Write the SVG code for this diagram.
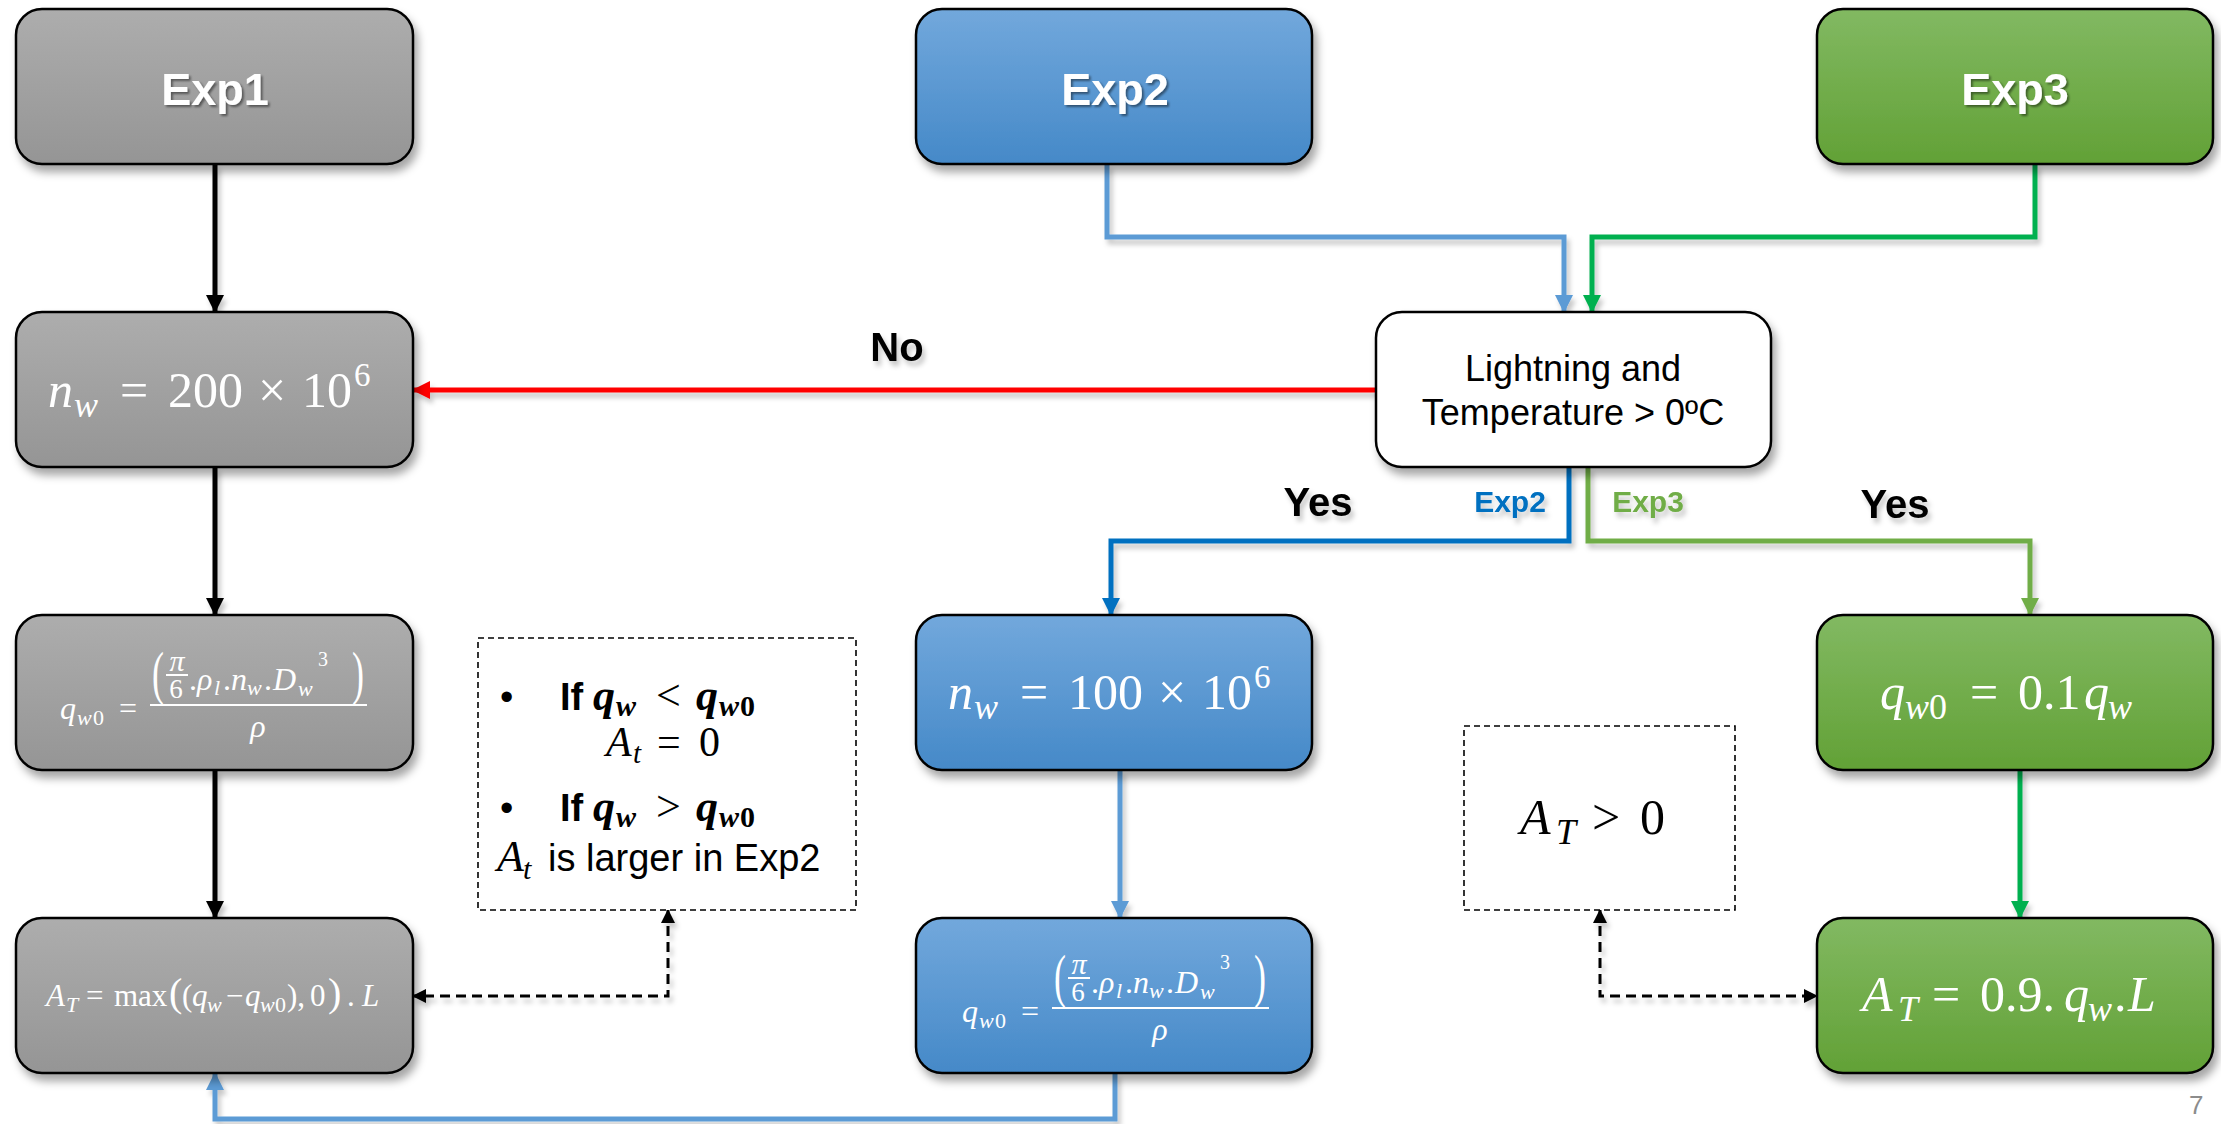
<svg xmlns="http://www.w3.org/2000/svg" width="2221" height="1124" viewBox="0 0 2221 1124">
<style>
.box{stroke:#000;stroke-width:2.5}
.lbl{font-family:"Liberation Sans",Arial,sans-serif;font-weight:bold;fill:#fff;font-size:45px;text-anchor:middle}
.m{font-family:"Liberation Serif","DejaVu Serif",serif;fill:#fff}
.mk{font-family:"Liberation Serif","DejaVu Serif",serif;fill:#000}
.i{font-style:italic}
.dec{font-family:"Liberation Sans",Arial,sans-serif;font-size:36px;fill:#000;text-anchor:middle}
.yes{font-family:"Liberation Sans",Arial,sans-serif;font-weight:bold;font-size:40px;fill:#000;text-anchor:middle}
.tag{font-family:"Liberation Sans",Arial,sans-serif;font-weight:bold;font-size:30px;text-anchor:middle}
.sans{font-family:"Liberation Sans",Arial,sans-serif}
.c{fill:none;stroke-width:5}
.dash{fill:none;stroke:#000;stroke-width:3;stroke-dasharray:10 6}
.dbox{fill:#fff;stroke:#000;stroke-width:1.6;stroke-dasharray:6 4}
</style>
<defs>
<linearGradient id="gGray" x1="0" y1="0" x2="0" y2="1"><stop offset="0" stop-color="#adadad"/><stop offset="1" stop-color="#959595"/></linearGradient>
<linearGradient id="gBlue" x1="0" y1="0" x2="0" y2="1"><stop offset="0" stop-color="#72a8dc"/><stop offset="1" stop-color="#4589c8"/></linearGradient>
<linearGradient id="gGreen" x1="0" y1="0" x2="0" y2="1"><stop offset="0" stop-color="#82b962"/><stop offset="1" stop-color="#62a136"/></linearGradient>
<filter id="sh" x="-10%" y="-10%" width="125%" height="135%"><feDropShadow dx="4" dy="7" stdDeviation="4" flood-color="#000" flood-opacity="0.35"/></filter>
<filter id="shl" x="-10%" y="-10%" width="125%" height="125%"><feDropShadow dx="3" dy="5" stdDeviation="2.5" flood-color="#000" flood-opacity="0.22"/></filter>
<filter id="ts" x="-10%" y="-10%" width="125%" height="130%"><feDropShadow dx="2" dy="2" stdDeviation="1" flood-color="#000" flood-opacity="0.45"/></filter>
<marker id="aK" markerUnits="userSpaceOnUse" markerWidth="18" markerHeight="18" viewBox="0 0 18 18" refX="17" refY="9" orient="auto"><path d="M0,0 L18,9 L0,18 z" fill="#000"/></marker>
<marker id="aR" markerUnits="userSpaceOnUse" markerWidth="18" markerHeight="18" viewBox="0 0 18 18" refX="17" refY="9" orient="auto"><path d="M0,0 L18,9 L0,18 z" fill="#ff0000"/></marker>
<marker id="aLB" markerUnits="userSpaceOnUse" markerWidth="18" markerHeight="18" viewBox="0 0 18 18" refX="17" refY="9" orient="auto"><path d="M0,0 L18,9 L0,18 z" fill="#5b9bd5"/></marker>
<marker id="aDB" markerUnits="userSpaceOnUse" markerWidth="18" markerHeight="18" viewBox="0 0 18 18" refX="17" refY="9" orient="auto"><path d="M0,0 L18,9 L0,18 z" fill="#0070c0"/></marker>
<marker id="aG" markerUnits="userSpaceOnUse" markerWidth="18" markerHeight="18" viewBox="0 0 18 18" refX="17" refY="9" orient="auto"><path d="M0,0 L18,9 L0,18 z" fill="#00b050"/></marker>
<marker id="aLG" markerUnits="userSpaceOnUse" markerWidth="18" markerHeight="18" viewBox="0 0 18 18" refX="17" refY="9" orient="auto"><path d="M0,0 L18,9 L0,18 z" fill="#70ad47"/></marker>
<marker id="aD" markerUnits="userSpaceOnUse" markerWidth="14" markerHeight="14" viewBox="0 0 14 14" refX="13" refY="7" orient="auto-start-reverse"><path d="M0,0 L14,7 L0,14 z" fill="#000"/></marker>
</defs>
<rect width="2221" height="1124" fill="#fff"/>

<g id="connectors" filter="url(#shl)">
<path class="c" stroke="#000" d="M215,164 V312" marker-end="url(#aK)"/>
<path class="c" stroke="#000" d="M215,467 V615" marker-end="url(#aK)"/>
<path class="c" stroke="#000" d="M215,770 V918" marker-end="url(#aK)"/>
<path class="c" stroke="#5b9bd5" d="M1107,164 V237 H1564 V312" marker-end="url(#aLB)"/>
<path class="c" stroke="#00b050" d="M2035,164 V237 H1592 V312" marker-end="url(#aG)"/>
<path class="c" stroke="#ff0000" d="M1376,390 H413" marker-end="url(#aR)"/>
<path class="c" stroke="#0070c0" d="M1569,467 V541 H1111 V615" marker-end="url(#aDB)"/>
<path class="c" stroke="#70ad47" d="M1588,467 V541 H2030 V615" marker-end="url(#aLG)"/>
<path class="c" stroke="#5b9bd5" d="M1120,770 V918" marker-end="url(#aLB)"/>
<path class="c" stroke="#00b050" d="M2020,770 V918" marker-end="url(#aG)"/>
<path class="c" stroke="#5b9bd5" d="M1115,1073 V1119 H215 V1073" marker-end="url(#aLB)"/>
<path class="dash" d="M668,910 V996 H413" marker-start="url(#aD)" marker-end="url(#aD)"/>
<path class="dash" d="M1600,910 V996 H1817" marker-start="url(#aD)" marker-end="url(#aD)"/>
<text x="897" y="361" class="yes">No</text>
<text x="1318" y="516" class="yes">Yes</text>
<text x="1895" y="518" class="yes">Yes</text>
<text x="1510" y="512" class="tag" fill="#0070c0">Exp2</text>
<text x="1648" y="512" class="tag" fill="#70ad47">Exp3</text>
</g>

<g id="exp1">
<rect class="box" x="16" y="9" width="397" height="155" rx="26" fill="url(#gGray)" filter="url(#sh)"/>
<text x="215" y="105" class="lbl" filter="url(#ts)">Exp1</text>
</g>
<g id="exp2">
<rect class="box" x="916" y="9" width="396" height="155" rx="26" fill="url(#gBlue)" filter="url(#sh)"/>
<text x="1115" y="105" class="lbl" filter="url(#ts)">Exp2</text>
</g>
<g id="exp3">
<rect class="box" x="1817" y="9" width="396" height="155" rx="26" fill="url(#gGreen)" filter="url(#sh)"/>
<text x="2015" y="105" class="lbl" filter="url(#ts)">Exp3</text>
</g>

<g id="decision">
<rect class="box" x="1376" y="312" width="395" height="155" rx="26" fill="#fff" filter="url(#sh)"/>
<text x="1573" y="381" class="dec">Lightning and</text>
<text x="1573" y="425" class="dec">Temperature &gt; 0ºC</text>
</g>

<g id="nw200">
<rect class="box" x="16" y="312" width="397" height="155" rx="26" fill="url(#gGray)" filter="url(#sh)"/>
<text class="m" font-size="50" y="407"><tspan class="i" x="48">n</tspan><tspan class="i" x="74" font-size="36" dy="10">w</tspan><tspan x="120" dy="-10">=</tspan><tspan x="168">200</tspan><tspan x="258">×</tspan><tspan x="302">10</tspan><tspan x="354" font-size="33" dy="-21">6</tspan></text>
</g>

<g id="qw0-exp1">
<rect class="box" x="16" y="615" width="397" height="155" rx="26" fill="url(#gGray)" filter="url(#sh)"/>
<g id="frac1">
<text class="m" font-size="32" y="719"><tspan class="i" x="60">q</tspan><tspan class="i" x="77" font-size="22" dy="6">w</tspan><tspan x="93" font-size="22">0</tspan><tspan x="119" dy="-6">=</tspan></text>
<line x1="150" y1="705" x2="367" y2="705" stroke="#fff" stroke-width="2"/>
<text class="m" font-size="60" transform="translate(152,693) scale(0.6,1)">(</text>
<text class="m" font-size="60" transform="translate(352,693) scale(0.6,1)">)</text>
<text class="m i" font-size="30" x="177" y="671" text-anchor="middle">π</text>
<line x1="166" y1="675" x2="188" y2="675" stroke="#fff" stroke-width="2"/>
<text class="m" font-size="27" x="176" y="698" text-anchor="middle">6</text>
<text class="m" font-size="32" y="690"><tspan x="189">.</tspan><tspan class="i" x="197">ρ</tspan><tspan class="i" x="214" font-size="22" dy="5">l</tspan><tspan x="223" dy="-5">.</tspan><tspan class="i" x="231">n</tspan><tspan class="i" x="247" font-size="22" dy="5">w</tspan><tspan x="264" dy="-5">.</tspan><tspan class="i" x="273">D</tspan><tspan class="i" x="298" font-size="22" dy="6">w</tspan><tspan x="318" font-size="20" dy="-30">3</tspan></text>
<text class="m i" font-size="32" x="258" y="737" text-anchor="middle">ρ</text>
</g>
</g>

<g id="AT-exp1">
<rect class="box" x="16" y="918" width="397" height="155" rx="26" fill="url(#gGray)" filter="url(#sh)"/>
<text class="m" font-size="31" y="1006"><tspan class="i" x="46">A</tspan><tspan class="i" x="66" font-size="22" dy="6">T</tspan><tspan x="86" dy="-6">=</tspan><tspan x="114">max</tspan><tspan x="169" font-size="40">(</tspan><tspan x="182">(</tspan><tspan class="i" x="192">q</tspan><tspan class="i" x="207" font-size="22" dy="6">w</tspan><tspan x="226" dy="-6">−</tspan><tspan class="i" x="245">q</tspan><tspan class="i" x="260" font-size="22" dy="6">w</tspan><tspan x="275" font-size="22">0</tspan><tspan x="287" dy="-6">),</tspan><tspan x="310">0</tspan><tspan x="328" font-size="40">)</tspan><tspan x="347">.</tspan><tspan class="i" x="362">L</tspan></text>
</g>

<g id="cond-box">
<rect class="dbox" x="478" y="638" width="378" height="272"/>
<text class="sans" font-size="38" x="500" y="710">•</text>
<text font-size="44" y="710"><tspan class="sans" font-size="38" font-weight="bold" x="560">If</tspan><tspan class="mk i" font-weight="bold" x="593">q</tspan><tspan class="mk i" font-weight="bold" x="616" font-size="30" dy="6">w</tspan><tspan class="mk" x="656" dy="-6">&lt;</tspan><tspan class="mk i" font-weight="bold" x="696">q</tspan><tspan class="mk i" font-weight="bold" x="719" font-size="30" dy="6">w</tspan><tspan class="mk" font-weight="bold" x="740" font-size="30">0</tspan></text>
<text class="mk" font-size="42" y="756"><tspan class="i" x="606">A</tspan><tspan class="i" x="633" font-size="29" dy="7">t</tspan><tspan x="657" dy="-7">=</tspan><tspan x="699">0</tspan></text>
<text class="sans" font-size="38" x="500" y="821">•</text>
<text font-size="44" y="821"><tspan class="sans" font-size="38" font-weight="bold" x="560">If</tspan><tspan class="mk i" font-weight="bold" x="593">q</tspan><tspan class="mk i" font-weight="bold" x="616" font-size="30" dy="6">w</tspan><tspan class="mk" x="656" dy="-6">&gt;</tspan><tspan class="mk i" font-weight="bold" x="696">q</tspan><tspan class="mk i" font-weight="bold" x="719" font-size="30" dy="6">w</tspan><tspan class="mk" font-weight="bold" x="740" font-size="30">0</tspan></text>
<text font-size="44" y="871"><tspan class="mk i" x="497">A</tspan><tspan class="mk i" x="523" font-size="30" dy="8">t</tspan><tspan class="sans" font-size="38" x="548" dy="-8">is larger in Exp2</tspan></text>
</g>

<g id="nw100">
<rect class="box" x="916" y="615" width="396" height="155" rx="26" fill="url(#gBlue)" filter="url(#sh)"/>
<text class="m" font-size="50" y="709"><tspan class="i" x="948">n</tspan><tspan class="i" x="974" font-size="36" dy="10">w</tspan><tspan x="1020" dy="-10">=</tspan><tspan x="1068">100</tspan><tspan x="1158">×</tspan><tspan x="1202">10</tspan><tspan x="1254" font-size="33" dy="-21">6</tspan></text>
</g>

<g id="qw0-exp2">
<rect class="box" x="916" y="918" width="396" height="155" rx="26" fill="url(#gBlue)" filter="url(#sh)"/>
<use href="#frac1" transform="translate(902,303)"/>
</g>

<g id="qw0-exp3">
<rect class="box" x="1817" y="615" width="396" height="155" rx="26" fill="url(#gGreen)" filter="url(#sh)"/>
<text class="m" font-size="50" y="709"><tspan class="i" x="1880">q</tspan><tspan class="i" x="1905" font-size="36" dy="10">w</tspan><tspan x="1929" font-size="36">0</tspan><tspan x="1970" dy="-10">=</tspan><tspan x="2018">0.1</tspan><tspan class="i" x="2084">q</tspan><tspan class="i" x="2108" font-size="36" dy="10">w</tspan></text>
</g>

<g id="AT-exp3">
<rect class="box" x="1817" y="918" width="396" height="155" rx="26" fill="url(#gGreen)" filter="url(#sh)"/>
<text class="m" font-size="50" y="1011"><tspan class="i" x="1862">A</tspan><tspan class="i" x="1898" font-size="36" dy="10">T</tspan><tspan x="1932" dy="-10">=</tspan><tspan x="1980">0.9.</tspan><tspan class="i" x="2064">q</tspan><tspan class="i" x="2088" font-size="36" dy="10">w</tspan><tspan x="2114" dy="-10">.</tspan><tspan class="i" x="2128">L</tspan></text>
</g>

<g id="at-pos">
<rect class="dbox" x="1464" y="726" width="271" height="184"/>
<text class="mk" font-size="50" y="834"><tspan class="i" x="1520">A</tspan><tspan class="i" x="1556" font-size="36" dy="10">T</tspan><tspan x="1592" dy="-10">&gt;</tspan><tspan x="1640">0</tspan></text>
</g>

<text class="sans" font-size="26" fill="#8c8c8c" x="2189" y="1114">7</text>
</svg>
